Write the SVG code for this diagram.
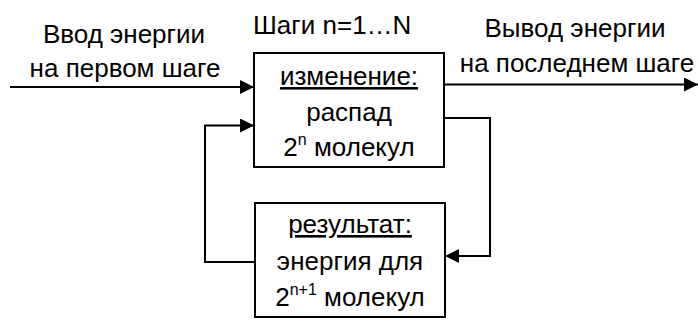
<svg xmlns="http://www.w3.org/2000/svg" width="698" height="320" viewBox="0 0 698 320">
  <style>
    text { font-family: "Liberation Sans", Arial, sans-serif; font-size: 26px; fill: #000; }
    .c { text-anchor: middle; }
    .u { text-decoration: underline; }
    .box { fill: #fff; stroke: #000; stroke-width: 2; }
    .wire { fill: none; stroke: #000; stroke-width: 2; }
    .sup { font-size: 16px; }
  </style>
  <defs>
    <marker id="arr" markerWidth="14" markerHeight="14" refX="14" refY="7" orient="auto" markerUnits="userSpaceOnUse">
      <path d="M0,0 L14,7 L0,14 Z" fill="#000"/>
    </marker>
  </defs>

  <!-- labels outside the boxes -->
  <text class="c" x="124" y="43">Ввод энергии</text>
  <text class="c" x="125" y="77">на первом шаге</text>
  <text x="253" y="34">Шаги n=1…N</text>
  <text class="c" x="575" y="37">Вывод энергии</text>
  <text class="c" x="577" y="72">на последнем шаге</text>

  <g id="connectors">
    <path class="wire" d="M10,87 H254" marker-end="url(#arr)"/>
    <path class="wire" d="M444,84.5 H698" marker-end="url(#arr)"/>
    <path class="wire" d="M444,118 H490 V256 H445" marker-end="url(#arr)"/>
    <path class="wire" d="M254,262 H205 V125.5 H254" marker-end="url(#arr)"/>
  </g>

  <g id="change">
    <rect class="box" x="254" y="53" width="190" height="114"/>
    <text class="c u" x="349" y="85">изменение:</text>
    <text class="c" x="349" y="121">распад</text>
    <text class="c" x="349" y="156">2<tspan class="sup" dy="-11">n</tspan><tspan dy="11"> молекул</tspan></text>
  </g>

  <g id="result">
    <rect class="box" x="255" y="203" width="190" height="114"/>
    <text class="c u" x="350" y="233">результат:</text>
    <text class="c" x="350" y="270">энергия для</text>
    <text class="c" x="350" y="306">2<tspan class="sup" dy="-11">n+1</tspan><tspan dy="11"> молекул</tspan></text>
  </g>
</svg>
